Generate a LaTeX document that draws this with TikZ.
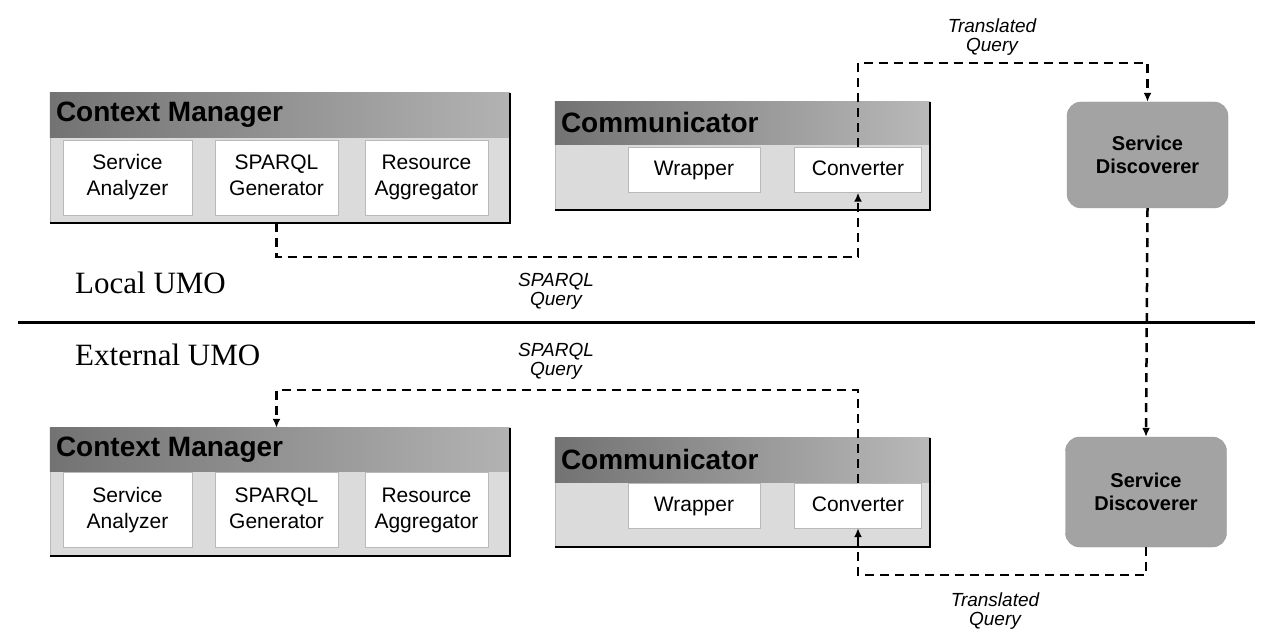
\documentclass[tikz,border=0pt]{standalone}
\usepackage{fontspec}
\setmainfont{Liberation Serif}
\setsansfont{Liberation Sans}
\usetikzlibrary{arrows.meta}

\begin{document}
\begin{tikzpicture}[x=1pt,y=-1pt,
	module/.style={draw=gray!55, fill=gray!28, inner sep=0pt, minimum width=#1},
	part/.style={draw=gray!55, fill=white, align=center, inner sep=0pt, minimum height=75, minimum width=#1, text height=42pt, text depth=6pt, font=\sffamily\fontsize{21}{26}\selectfont},
	smallpart/.style={part=#1, minimum height=45, text height=16pt, text depth=5pt},
	title/.style={anchor=west, inner sep=0pt, font=\sffamily\bfseries\fontsize{28}{30}\selectfont},
	discoverer/.style={draw=gray!80, fill=gray!72, rounded corners=14, inner sep=0pt, minimum width=161, minimum height=#1, align=center, font=\sffamily\bfseries\fontsize{20}{23}\selectfont},
	umo/.style={anchor=west, inner sep=0pt, font=\fontsize{31}{33}\selectfont},
	msg/.style={align=center, inner sep=0pt, font=\sffamily\itshape\fontsize{19}{19}\selectfont},
	flow/.style={line width=2.5pt, dash pattern=on 9pt off 6pt, -{Latex[length=9pt,width=8pt]}}]
	\useasboundingbox (0,0) rectangle (1263,636);

	\node[module=460, minimum height=130] (cmA) at (280,158) {};
	\shade[left color=gray!90!black, right color=gray!60] (cmA.north west) rectangle ([yshift=-45pt]cmA.north east);
	\node[title] (cmAtitle) at ([xshift=6pt,yshift=-22pt]cmA.north west) {Context Manager};
	\draw[line width=2pt] (cmA.south west) -- (cmA.south east) -- (cmA.north east);
	\node[part=129] (saA) at (127.5,178) {Service\\Analyzer};
	\node[part=123] (sgA) at (276.5,178) {SPARQL\\Generator};
	\node[part=123] (raA) at (426.5,178) {Resource\\Aggregator};

	\node[module=375, minimum height=108] (comA) at (742.5,156) {};
	\shade[left color=gray!90!black, right color=gray!55] (comA.north west) rectangle ([yshift=-43pt]comA.north east);
	\node[title] (comAtitle) at ([xshift=6pt,yshift=-21pt]comA.north west) {Communicator};
	\draw[line width=2pt] (comA.south west) -- (comA.south east) -- (comA.north east);
	\node[smallpart=132] (wrA) at (694,170) {Wrapper};
	\node[smallpart=127] (cvA) at (858,170) {Converter};

	\node[discoverer=106] (sdA) at (1147.5,155) {Service\\Discoverer};

	\node[module=460, minimum height=128] (cmB) at (280,492) {};
	\shade[left color=gray!90!black, right color=gray!60] (cmB.north west) rectangle ([yshift=-44pt]cmB.north east);
	\node[title] (cmBtitle) at ([xshift=6pt,yshift=-22pt]cmB.north west) {Context Manager};
	\draw[line width=2pt] (cmB.south west) -- (cmB.south east) -- (cmB.north east);
	\node[part=129] (saB) at (127.5,510) {Service\\Analyzer};
	\node[part=123] (sgB) at (276.5,510) {SPARQL\\Generator};
	\node[part=123] (raB) at (426.5,510) {Resource\\Aggregator};

	\node[module=375, minimum height=109] (comB) at (742.5,492.5) {};
	\shade[left color=gray!90!black, right color=gray!55] (comB.north west) rectangle ([yshift=-45pt]comB.north east);
	\node[title] (comBtitle) at ([xshift=6pt,yshift=-22pt]comB.north west) {Communicator};
	\draw[line width=2pt] (comB.south west) -- (comB.south east) -- (comB.north east);
	\node[smallpart=132] (wrB) at (694,505.5) {Wrapper};
	\node[smallpart=127] (cvB) at (858,505.5) {Converter};

	\node[discoverer=110] (sdB) at (1146,492) {Service\\Discoverer};

	\coordinate (sepL) at (18,322);
	\coordinate (sepR) at (1255,322);
	\draw[line width=3pt] (sepL) -- (sepR);
	\node[umo] (local) at (75,283) {Local UMO};
	\node[umo] (external) at (75,355) {External UMO};

	\coordinate (sqA) at (556,257);
	\coordinate (tqA) at (992,63);
	\coordinate (tqB) at (995,575);
	\coordinate (sqB) at (556,390);
	\node[msg] (sqAlabel) at (556,291) {SPARQL\\Query};
	\node[msg] (tqAlabel) at (992,37) {Translated\\Query};
	\node[msg] (tqBlabel) at (995,611) {Translated\\Query};
	\node[msg] (sqBlabel) at (556,361) {SPARQL\\Query};

	\draw[flow] (sgA.south |- cmA.south) |- (sqA) -| (cvA.south);
	\draw[flow] (cvA.north) |- (tqA) -| (sdA.north);
	\draw[flow] (sdA.south) -- (sdB.north);
	\draw[flow] (sdB.south) |- (tqB) -| (cvB.south);
	\draw[flow] (cvB.north) |- (sqB) -| (sgB.north |- cmB.north);
\end{tikzpicture}
\end{document}
